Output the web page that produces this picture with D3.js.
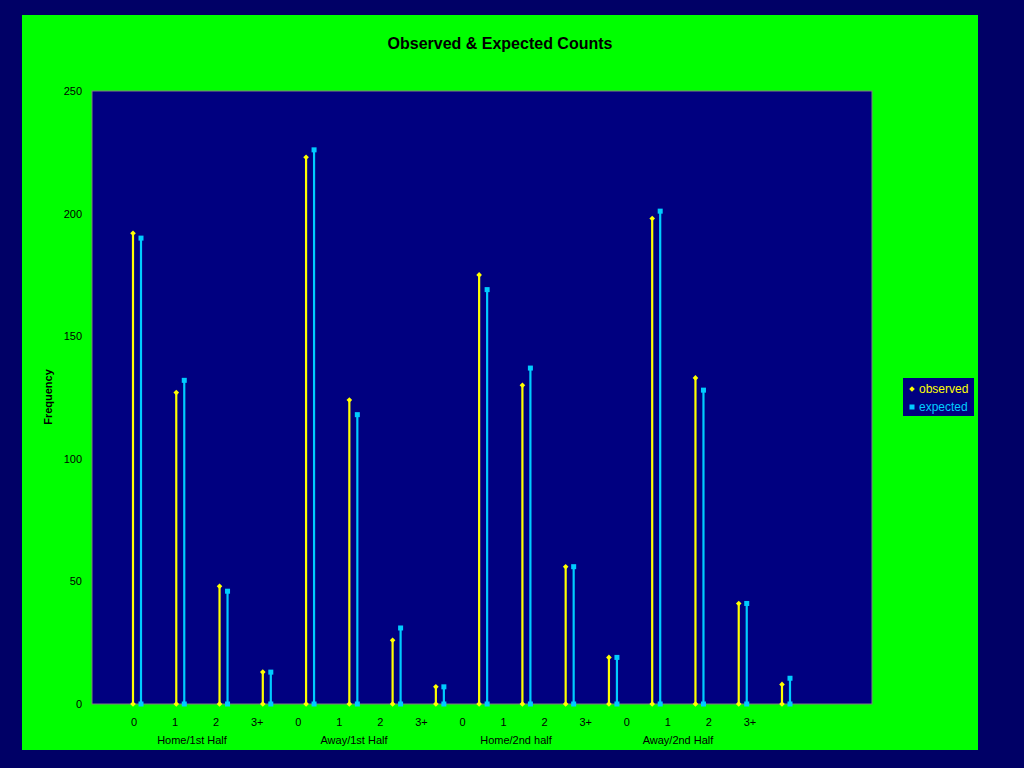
<!DOCTYPE html><html><head><script src="https://cdn.jsdelivr.net/npm/d3@7"></script>
<style>body{margin:0;background:#000066}</style></head><body><svg id="c" width="1024" height="768"></svg><script>
const categories=["0","1","2","3+","0","1","2","3+","0","1","2","3+","0","1","2","3+"];
const groups=["Home/1st Half","Away/1st Half","Home/2nd half","Away/2nd Half"];
const observed=[192,127,48,13,223,124,26,7,175,130,56,19,198,133,41,8];
const expected=[190,132,46,13,226,118,31,7,169,137,56,19,201,128,41,10.5];
const yTicks=[0,50,100,150,200,250];
const svg=d3.select("#c");
svg.append("rect").attr("width",1024).attr("height",768).attr("fill","#000066");
svg.append("rect").attr("x",22).attr("y",15).attr("width",956).attr("height",735).attr("fill","#00ff00");
const L=92,R=872,T=91,B=704;
svg.append("rect").attr("x",L).attr("y",T).attr("width",R-L).attr("height",B-T).attr("fill","#000080").attr("stroke","#808080");
const y=d3.scaleLinear().domain([0,250]).range([B,T]);
const x=d3.scaleLinear().domain([0,15]).range([133,782]);
const xl=d3.scaleLinear().domain([0,15]).range([134,750]);
const gl=d3.scaleLinear().domain([0,3]).range([192,678]);
const ya=svg.append("g").attr("transform",`translate(${L},0)`).call(d3.axisLeft(y).tickValues(yTicks).tickSize(0).tickPadding(10));
ya.select(".domain").remove();
ya.selectAll("text").attr("font-family","Liberation Sans, Arial").attr("font-size",11).attr("fill","#000");
const dia=d3.symbol(d3.symbolDiamond2,20)();
function series(vals,off,col,sq){
  const g=svg.append("g");
  vals.forEach((v,i)=>{
    const cx=x(i)+off;
    g.append("line").attr("x1",cx).attr("x2",cx).attr("y1",y(0)).attr("y2",y(v)).attr("stroke",col).attr("stroke-width",2.2);
    [y(v),y(0)].forEach(cy=>{
      if(sq) g.append("rect").attr("x",cx-2.5).attr("y",cy-2.5).attr("width",5).attr("height",5).attr("fill",col);
      else g.append("path").attr("d",dia).attr("transform",`translate(${cx},${cy})`).attr("fill",col);
    });
  });
}
series(observed,0,"#ffff00",false);
series(expected,8,"#00ccff",true);
const tf="Liberation Sans, Arial";
svg.append("g").selectAll("text").data(categories).join("text").attr("x",(d,i)=>xl(i)).attr("y",726).attr("text-anchor","middle").attr("font-family",tf).attr("font-size",11).text(d=>d);
svg.append("g").selectAll("text").data(groups).join("text").attr("x",(d,i)=>gl(i)).attr("y",744).attr("text-anchor","middle").attr("font-family",tf).attr("font-size",11).text(d=>d);
svg.append("text").attr("x",500).attr("y",49).attr("text-anchor","middle").attr("font-family",tf).attr("font-weight","bold").attr("font-size",16).text("Observed & Expected Counts");
svg.append("text").attr("transform","translate(52,397) rotate(-90)").attr("text-anchor","middle").attr("font-family",tf).attr("font-weight","bold").attr("font-size",11).text("Frequency");
const lg=svg.append("g");
lg.append("rect").attr("x",903).attr("y",378).attr("width",71).attr("height",38).attr("fill","#000080");
lg.append("path").attr("d",dia).attr("transform","translate(912,389)").attr("fill","#ffff00");
lg.append("rect").attr("x",909.5).attr("y",404.5).attr("width",5).attr("height",5).attr("fill","#00ccff");
lg.append("text").attr("x",919).attr("y",393).attr("font-family",tf).attr("font-size",12).attr("fill","#ffff00").text("observed");
lg.append("text").attr("x",919).attr("y",411).attr("font-family",tf).attr("font-size",12).attr("fill","#00ccff").text("expected");
</script></body></html>
